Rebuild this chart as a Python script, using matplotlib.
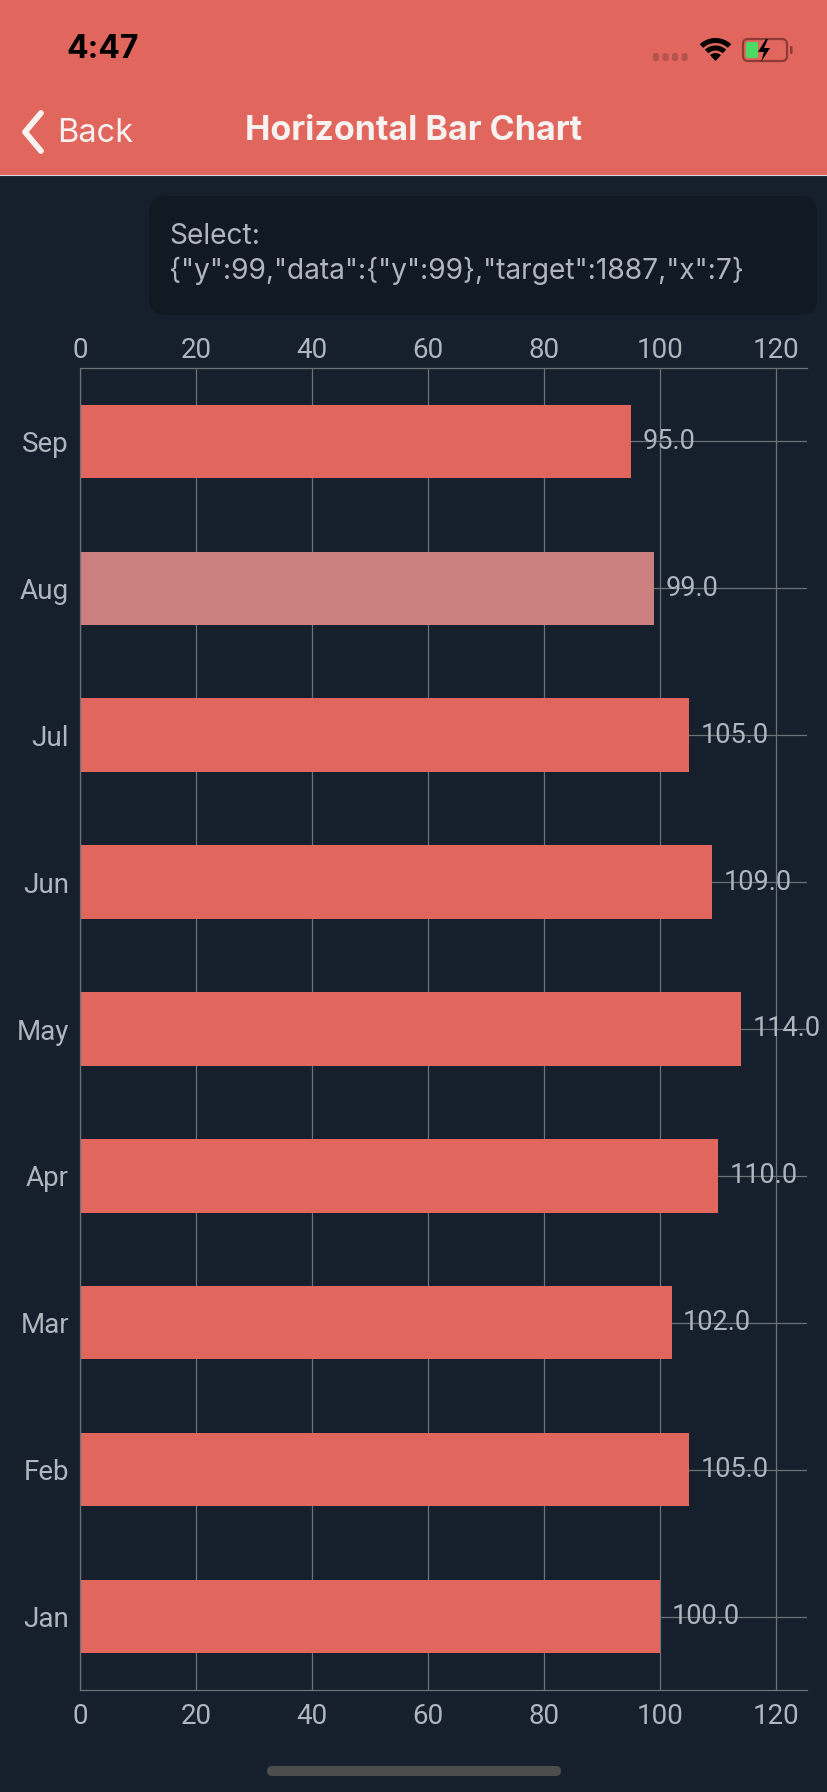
import matplotlib
matplotlib.use("Agg")
import matplotlib.pyplot as plt
import matplotlib.transforms as mtransforms
from matplotlib.patches import Rectangle, FancyBboxPatch, Wedge, Polygon

# ---- data ----
months = ["Jan", "Feb", "Mar", "Apr", "May", "Jun", "Jul", "Aug", "Sep"]
values = [100, 105, 102, 110, 114, 109, 105, 99, 95]
selected = "Aug"
xticks = [0, 20, 40, 60, 80, 100, 120]
title = "Horizontal Bar Chart"
back_label = "Back"
clock = "4:47"
select_text = 'Select:\n{"y":99,"data":{"y":99},"target":1887,"x":7}'

# ---- style ----
W, H = 828, 1792
BG = "#16202C"
HEADER = "#E0665E"
BAR = "#E0665E"
BAR_SEL = "#CC7F7F"
GRID = "#6C7279"
TXT = "#AEB5BE"
FONT = ["Roboto", "DejaVu Sans"]
UI = ["Inter", "Roboto", "DejaVu Sans"]
plt.rcParams["font.family"] = FONT

fig = plt.figure(figsize=(W / 100, H / 100), dpi=100, facecolor=BG)

# overlay axes in pixel coordinates for the app chrome
ov = fig.add_axes([0, 0, 1, 1], zorder=0)
ov.set_xlim(0, W)
ov.set_ylim(H, 0)
ov.axis("off")

# header
ov.add_patch(Rectangle((0, 0), W, 175, color=HEADER, lw=0))
ov.plot([0, W], [175, 175], color="#D9D9D9", lw=0.8)

# status bar
ov.text(103, 50, clock, fontsize=23, fontweight="bold", color="black",
        ha="center", va="center", family=UI)
for i in range(4):
    ov.add_patch(FancyBboxPatch((653 + i * 9.5, 53), 6, 8,
                                boxstyle="round,pad=0,rounding_size=2.5",
                                color="#B5534D", lw=0))
# wifi
cx, cy = 715.5, 61
ov.add_patch(Wedge((cx, cy), 23, 227, 313, width=5, color="black", lw=0))
ov.add_patch(Wedge((cx, cy), 15.5, 227, 313, width=5, color="black", lw=0))
ov.add_patch(Wedge((cx, cy), 8, 227, 313, color="black", lw=0))
# battery
ov.add_patch(FancyBboxPatch((743, 39), 44, 22,
                            boxstyle="round,pad=0,rounding_size=5",
                            fc="none", ec="#8E3B36", lw=1.6))
ov.add_patch(FancyBboxPatch((790, 46), 2.5, 8,
                            boxstyle="round,pad=0,rounding_size=1",
                            color="#8E3B36", lw=0))
ov.add_patch(FancyBboxPatch((746, 42), 12, 16,
                            boxstyle="round,pad=0,rounding_size=2",
                            color="#4CD964", lw=0))
ov.add_patch(Polygon([(766, 39), (758, 52), (764, 52), (761, 62),
                      (770, 48), (764, 48), (768, 39)],
                     closed=True, color="black", lw=0))

# nav bar
ov.plot([41, 25, 41], [113, 132, 151], color="#F7F1F0", lw=4.2,
        solid_capstyle="round", solid_joinstyle="round")
ov.text(57, 133, back_label, fontsize=23.5, color="#F7F1F0",
        ha="left", va="center", family=UI)
ov.text(414, 131, title, fontsize=24.5, fontweight="bold", color="#F7F1F0",
        ha="center", va="center", family=UI)

# select box
ov.add_patch(FancyBboxPatch((149, 196), 668, 119,
                            boxstyle="round,pad=0,rounding_size=16",
                            color="#111A23", lw=0))
ov.text(169, 254, select_text, fontsize=20.3, color=TXT, ha="left",
        va="center", linespacing=1.3, family=UI)

# home indicator
ov.add_patch(FancyBboxPatch((267, 1766), 294, 10,
                            boxstyle="round,pad=0,rounding_size=5",
                            color="#4D4D4D", lw=0))

# ---- chart ----
left, right, top, bottom = 80, 807, 368, 1690
ax = fig.add_axes([left / W, 1 - bottom / H, (right - left) / W,
                   (bottom - top) / H], zorder=1)
ax.set_facecolor("none")
ypos = list(range(len(months)))
colors = [BAR_SEL if m == selected else BAR for m in months]
bars = ax.barh(ypos, values, height=0.5, color=colors, zorder=2)
ax.bar_label(bars, labels=[f"{v:.1f}" for v in values], padding=8,
             fontsize=19.5, color=TXT)

ax.set_xlim(0, 125.3)
ax.set_ylim(-0.5, len(months) - 0.5)
ax.set_xticks(xticks)
ax.set_yticks(ypos)
ax.set_yticklabels(months)
ax.grid(True, color=GRID, lw=0.9)
ax.set_axisbelow(True)
for s in ["left", "top", "bottom"]:
    ax.spines[s].set_color(GRID)
    ax.spines[s].set_linewidth(0.9)
ax.spines["right"].set_visible(False)
ax.tick_params(axis="x", which="both", length=0, labelsize=20,
               labelcolor=TXT, top=False, labeltop=True, pad=9)
ax.tick_params(axis="y", length=0, labelsize=20, labelcolor=TXT, pad=8)

# top labels sit a little closer to the axis than the bottom ones
fig.canvas.draw()
offset = mtransforms.ScaledTranslation(0, -9 / 100, fig.dpi_scale_trans)
for t in ax.xaxis.get_major_ticks():
    t.label2.set_transform(t.label2.get_transform() + offset)

fig.savefig("out.png", dpi=100, facecolor=BG)
